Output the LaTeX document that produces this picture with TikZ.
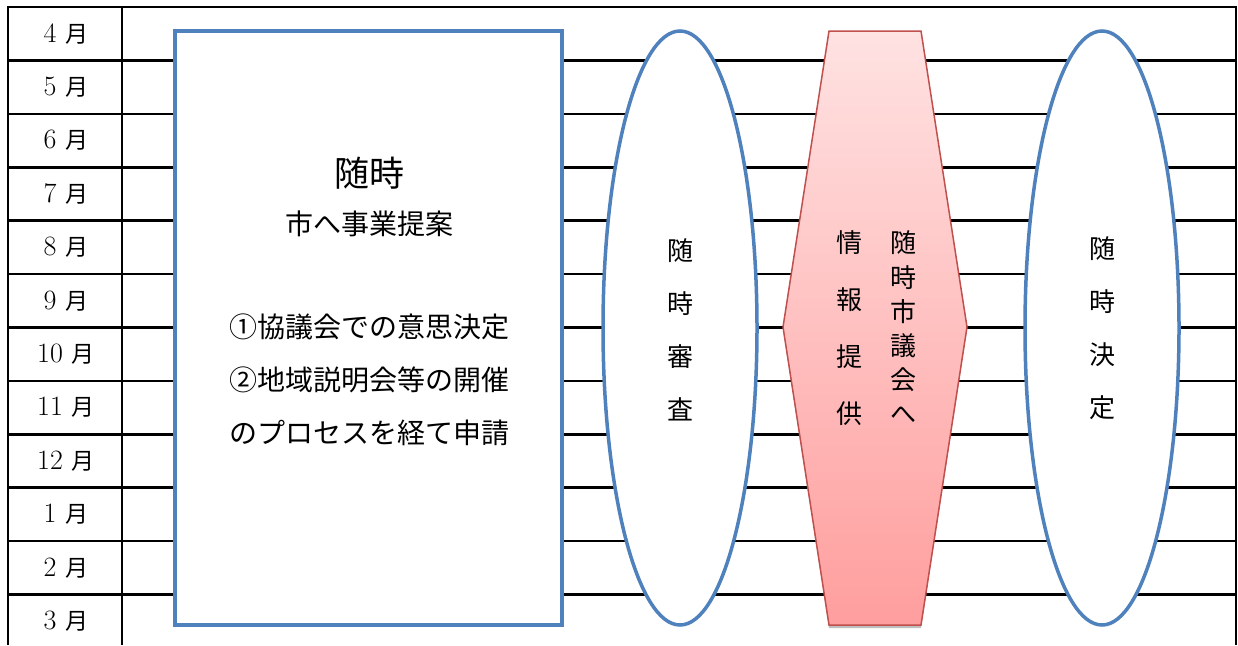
\documentclass[tikz,border=0pt]{standalone}
\usepackage{fontspec}
\newfontfamily\jp{Noto Sans CJK JP}
\usetikzlibrary{shapes.geometric,shadows}
\definecolor{blueline}{HTML}{4F81BD}
\definecolor{hexred}{HTML}{C0504D}
\definecolor{pinktop}{HTML}{FFE2E2}
\definecolor{pinkbot}{HTML}{FF9E9E}
\begin{document}
\begin{tikzpicture}[x=1pt,y=-1pt,
  grid/.style={line width=2.6pt,black},
  blueshape/.style={draw=blueline,line width=3.5pt,fill=white,inner sep=0pt},
  month/.style={font=\fontsize{28}{28}\selectfont,inner sep=0pt},
  bigtxt/.style={font=\jp\fontsize{35}{35}\selectfont,inner sep=0pt},
  midtxt/.style={font=\jp\fontsize{28}{28}\selectfont,inner sep=0pt},
  vert/.style={font=\jp\fontsize{26}{53}\selectfont,align=center,inner sep=0pt},
  vertnarrow/.style={font=\jp\fontsize{26}{34.2}\selectfont,align=center,inner sep=0pt},
  vertwide/.style={font=\jp\fontsize{26}{57}\selectfont,align=center,inner sep=0pt}]
\useasboundingbox (0,0) rectangle (1238,645);
% table
\foreach \k in {0,...,11}
  \draw[grid] (8,{7+53.4*\k}) -- (1236,{7+53.4*\k});
\draw[grid] (8,6) -- (8,645);
\draw[grid] (122,6) -- (122,645);
\draw[grid] (1236,6) -- (1236,645);
% month labels
\foreach \m [count=\i from 0] in {4,5,6,7,8,9,10,11,12,1,2,3}
  \node[month] (m\m) at (66,{33.7+53.4*\i}) {\m\hspace{9pt}{\jp\fontsize{23}{23}\selectfont 月}};
% proposal box
\node[blueshape,minimum width=387pt,minimum height=594pt] (prop) at (368.5,328) {};
\node[bigtxt] (t1) at (369,173) {随時};
\node[midtxt] (t2) at (369,224) {市へ事業提案};
\node[midtxt] (t3) at (369,327) {①協議会での意思決定};
\node[midtxt] (t4) at (369,380) {②地域説明会等の開催};
\node[midtxt] (t5) at (369,433) {のプロセスを経て申請};
% ellipse 1
\node[blueshape,ellipse,minimum width=154pt,minimum height=594pt] (e1) at (680,328) {};
\node[vert] (v1) at (680,330) {随\\時\\審\\査};
% hexagon
\path[draw=hexred,line width=1.5pt,top color=pinktop,bottom color=pinkbot,
  drop shadow={shadow xshift=0pt,shadow yshift=-3pt,opacity=0.25,fill=black}]
  (829,31) -- (921,31) -- (967,327) -- (921,625) -- (829,625) -- (783,327) -- cycle;
\node[vertnarrow] (h1) at (903,327.5) {随\\時\\市\\議\\会\\へ};
\node[vertwide] (h2) at (849,328) {情\\報\\提\\供};
% ellipse 2
\node[blueshape,ellipse,minimum width=154pt,minimum height=594pt] (e2) at (1102,328) {};
\node[vert] (v2) at (1102,328) {随\\時\\決\\定};
\end{tikzpicture}
\end{document}
